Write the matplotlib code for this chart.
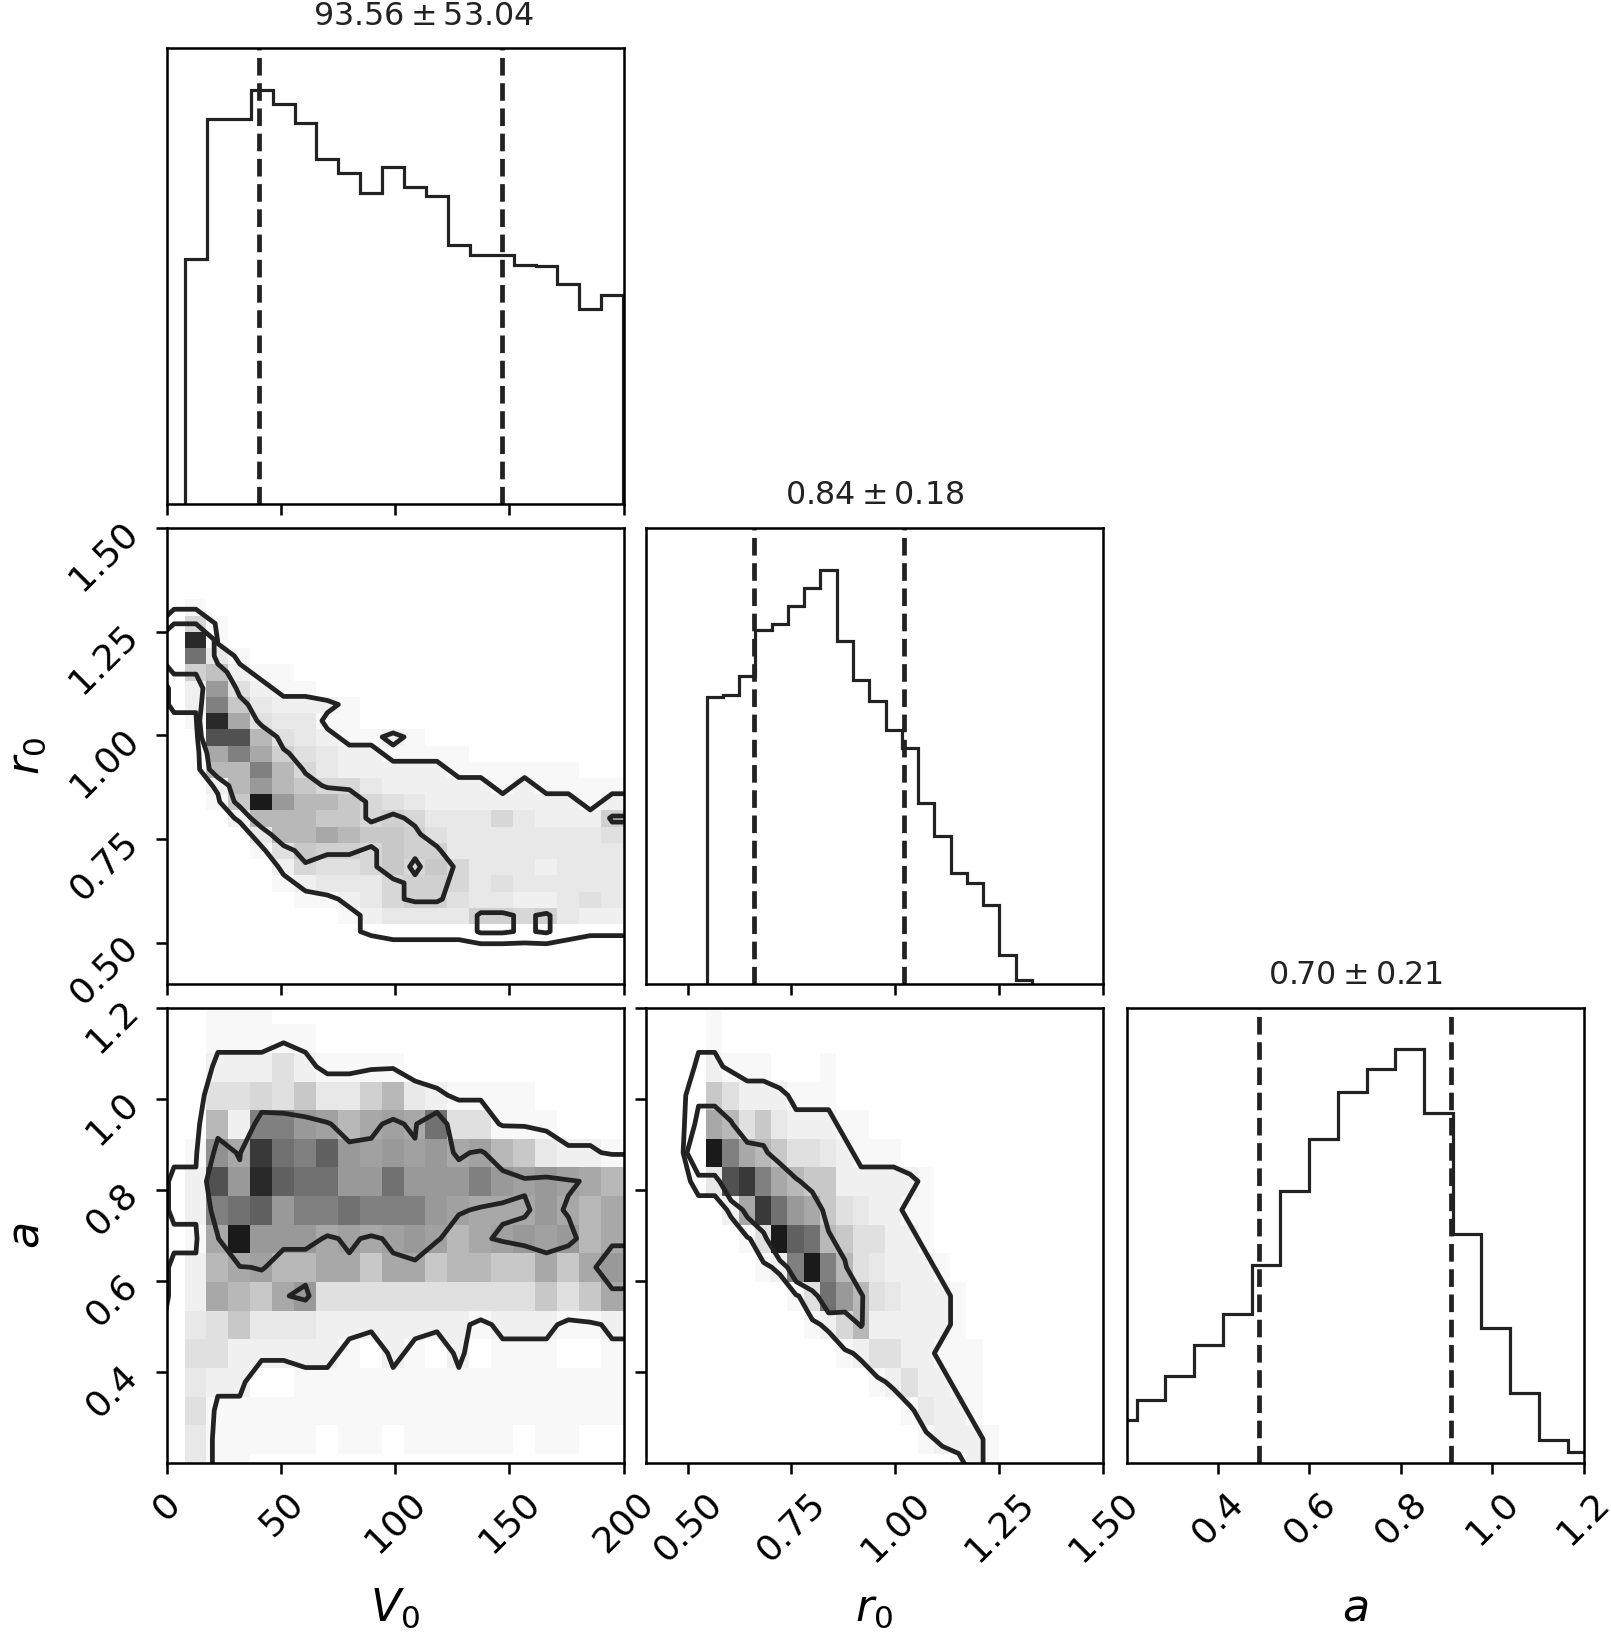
import numpy as np
import matplotlib
matplotlib.use("Agg")
import matplotlib.pyplot as plt
from matplotlib.colors import LinearSegmentedColormap

# Bin edges of the three parameters
v0_edges = np.linspace(8.0, 199.8, 21)
r0_edges = np.linspace(0.546, 1.329, 21)
a_edges = np.linspace(0.159, 1.228, 18)

# Axis ranges and ticks
v0_range = (0, 200)
r0_range = (0.4, 1.5)
a_range = (0.2, 1.2)
v0_ticks = [0, 50, 100, 150, 200]
r0_ticks = [0.5, 0.75, 1.0, 1.25, 1.5]
a_ticks = [0.4, 0.6, 0.8, 1.0, 1.2]

# 1D histograms (counts, arbitrary units)
v0_hist = [734, 1154, 1154, 1241, 1199, 1141, 1034, 992, 931, 1009,
           951, 924, 776, 747, 747, 717, 712, 659, 584, 627]
r0_hist = [862, 869, 927, 1064, 1082, 1137, 1190, 1245, 1032, 914,
           850, 764, 709, 544, 444, 332, 304, 237, 87, 12]
a_hist = [132, 190, 264, 357, 450, 597, 820, 975, 1116, 1186,
          1245, 1052, 690, 407, 212, 72, 34]

# mean +- std shown in the titles
v0_stat = (93.56, 53.04)
r0_stat = (0.84, 0.18)
a_stat = (0.70, 0.21)

# 2D histograms, base-36 digits, top row = highest y bin, left = lowest x bin
v0_r0_rows = [
    "10000000000000000000",
    "51000000000000000000",
    "r1000000000000000000",
    "i3100000000000000000",
    "68211000000000000000",
    "2d421100000000000000",
    "2g732221000000000000",
    "1rb43311000000000000",
    "0mm94321121000000000",
    "0bgb6432211110000000",
    "099g9532222211111100",
    "029d9755322222121111",
    "017td997543222222212",
    "00299977565333532226",
    "000399b9776433333334",
    "00014766576633333333",
    "00002544575753332333",
    "00001233356653433333",
    "00000112356643322343",
    "00000001233336656322",
]
v0_a_rows = [
    "01110000000000000000",
    "01111100000000000000",
    "02224211110000000000",
    "04454733693211110000",
    "092ggdc9bcbi44111000",
    "1ebpigkdcdcdbc973221",
    "2mdrkiiddidddgdcdcb9",
    "2gikdggigggdcbbbdb9b",
    "1btdddbcbcdc9bcdcd9b",
    "29bc99bb7bb79977b7bd",
    "2b97bd4444444444747b",
    "34733322222221222112",
    "44222221021020111001",
    "32200111111111111111",
    "41111111111111111111",
    "31111101101111101100",
    "31100000000000000000",
]
r0_a_rows = [
    "10000000000000000000",
    "10000000000000000000",
    "21110001000000000000",
    "74222111000000000000",
    "b9473222110000000000",
    "tgb97443211100000000",
    "3mpgb977222221000000",
    "02bpidb7432211000000",
    "0014tki9744221000000",
    "00012gtg943222100000",
    "0000014id94322210000",
    "00000012592222210000",
    "00000000124422111000",
    "00000000001242211000",
    "00000000000013221000",
    "00000000000001222100",
    "00000000000000012100",
]

# contour levels (outer, inner) in grid units
v0_r0_levels = [1.5, 5.5]
v0_a_levels = [1.5, 11.5]
r0_a_levels = [1.5, 8.5]


def decode(rows):
    return np.array([[int(c, 36) for c in row] for row in rows[::-1]], float)


def padded(H, xe, ye):
    # same edge padding as corner.hist2d so contours close outside the data
    xc = 0.5 * (xe[1:] + xe[:-1])
    yc = 0.5 * (ye[1:] + ye[:-1])
    ny, nx = H.shape
    H2 = H.min() + np.zeros((ny + 4, nx + 4))
    H2[2:-2, 2:-2] = H
    H2[2:-2, 1] = H[:, 0]
    H2[2:-2, -2] = H[:, -1]
    H2[1, 2:-2] = H[0]
    H2[-2, 2:-2] = H[-1]
    H2[1, 1] = H[0, 0]
    H2[1, -2] = H[0, -1]
    H2[-2, 1] = H[-1, 0]
    H2[-2, -2] = H[-1, -1]
    dx = xc[1] - xc[0]
    dy = yc[1] - yc[0]
    X2 = np.concatenate([xc[0] + np.array([-2, -1]) * dx, xc,
                         xc[-1] + np.array([1, 2]) * dx])
    Y2 = np.concatenate([yc[0] + np.array([-2, -1]) * dy, yc,
                         yc[-1] + np.array([1, 2]) * dy])
    return X2, Y2, H2


col = "#222222"
dens_cmap = LinearSegmentedColormap.from_list("dens", ["white", "#1a1a1a"])

W, Hpx, dpi = 1611, 1635, 228.5
fig = plt.figure(figsize=(W / dpi, Hpx / dpi), dpi=dpi)
lefts = [0.1035, 0.4010, 0.6994]
bottoms = [0.6917, 0.3982, 0.1049]
pw, ph = 0.2836, 0.2787

params = [
    dict(edges=v0_edges, hist=v0_hist, stat=v0_stat, rng=v0_range, ticks=v0_ticks,
         label=r"$V_0$", title_x=0.562),
    dict(edges=r0_edges, hist=r0_hist, stat=r0_stat, rng=r0_range, ticks=r0_ticks,
         label=r"$r_0$", title_x=0.5),
    dict(edges=a_edges, hist=a_hist, stat=a_stat, rng=a_range, ticks=a_ticks,
         label=r"$a$", title_x=0.5),
]
pairs = {
    (1, 0): (v0_r0_rows, v0_r0_levels),
    (2, 0): (v0_a_rows, v0_a_levels),
    (2, 1): (r0_a_rows, r0_a_levels),
}

for i in range(3):
    for j in range(i + 1):
        ax = fig.add_axes([lefts[j], bottoms[i], pw, ph])
        px = params[j]
        if i == j:
            ax.hist(px["edges"][:-1], bins=px["edges"], weights=px["hist"],
                    histtype="step", color=col, lw=1.0)
            ax.set_ylim(0, 1.1 * max(px["hist"]))
            m, s = px["stat"]
            for q in (m - s, m + s):
                ax.axvline(q, ls="dashed", color=col, lw=1.5)
            ax.set_title(r"${:.2f} \pm {:.2f}$".format(m, s), fontsize=10,
                         color=col, x=px["title_x"], pad=7.5)
            ax.set_yticks([])
        else:
            py = params[i]
            rows, levels = pairs[(i, j)]
            Hg = decode(rows)
            ax.pcolor(px["edges"], py["edges"], Hg, cmap=dens_cmap,
                      vmin=0, vmax=Hg.max())
            X2, Y2, H2 = padded(Hg, px["edges"], py["edges"])
            ax.contour(X2, Y2, H2, levels, colors=col, linewidths=1.5)
            ax.set_ylim(py["rng"])
            ax.set_yticks(py["ticks"])
            if j == 0:
                ax.tick_params(axis="y", labelrotation=45, labelsize=11.5)
                ax.set_ylabel(py["label"], fontsize=14)
                ax.yaxis.set_label_coords(-0.26, 0.5)
            else:
                ax.set_yticklabels([])
        ax.set_xlim(px["rng"])
        ax.set_xticks(px["ticks"])
        if i == 2:
            ax.tick_params(axis="x", labelrotation=45, labelsize=11.5)
            ax.set_xlabel(px["label"], fontsize=14)
            ax.xaxis.set_label_coords(0.5, -0.27)
        else:
            ax.set_xticklabels([])

fig.savefig("out.png", dpi=dpi)
